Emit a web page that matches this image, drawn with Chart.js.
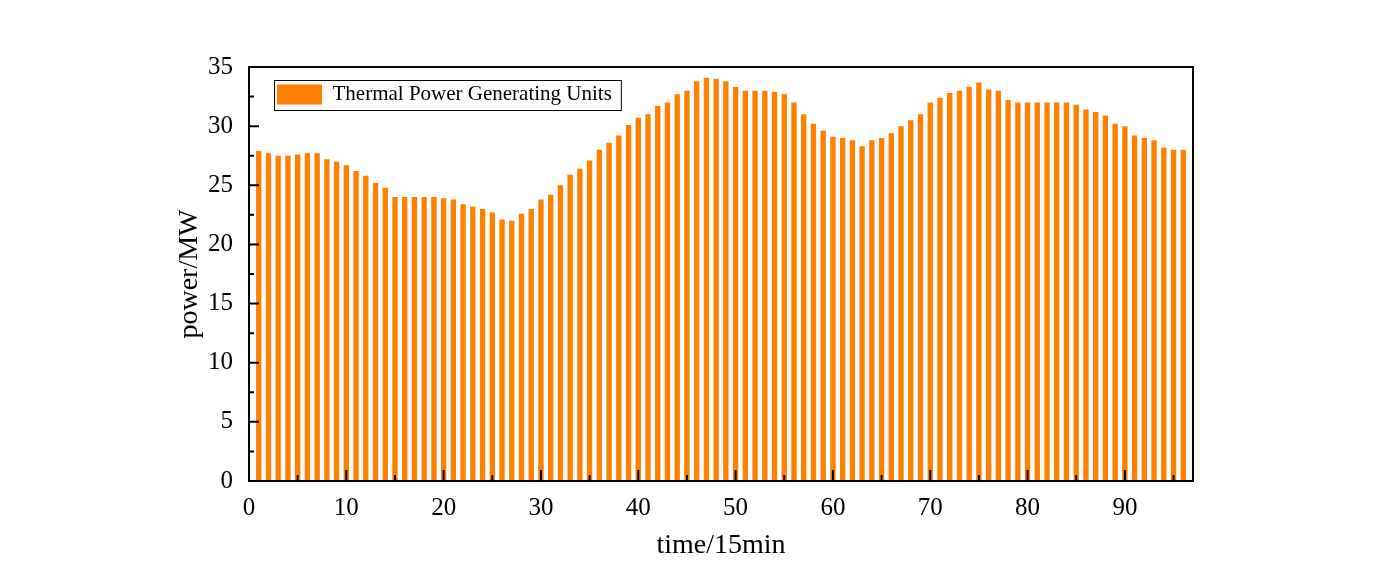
<!DOCTYPE html>
<html>
<head>
<meta charset="utf-8">
<script src="https://cdn.jsdelivr.net/npm/chart.js@4.4.1/dist/chart.umd.min.js"></script>
<style>
  html, body { margin: 0; padding: 0; background: #fff; }
  #wrap { width: 1386px; height: 577px; }
</style>
</head>
<body>
<div id="wrap"><canvas id="graficoTermica"></canvas></div>
<script>
// dados (periodos de 15 min)
const periodos = [1, 2, 3, 4, 5, 6, 7, 8, 9, 10, 11, 12, 13, 14, 15, 16, 17, 18, 19, 20,
    21, 22, 23, 24, 25, 26, 27, 28, 29, 30, 31, 32, 33, 34, 35, 36, 37, 38, 39, 40,
    41, 42, 43, 44, 45, 46, 47, 48, 49, 50, 51, 52, 53, 54, 55, 56, 57, 58, 59, 60,
    61, 62, 63, 64, 65, 66, 67, 68, 69, 70, 71, 72, 73, 74, 75, 76, 77, 78, 79, 80,
    81, 82, 83, 84, 85, 86, 87, 88, 89, 90, 91, 92, 93, 94, 95, 96];
const potencia = [27.9, 27.7, 27.5, 27.5, 27.6, 27.7, 27.7, 27.2, 27.0, 26.7,
    26.2, 25.8, 25.2, 24.8, 24.0, 24.0, 24.0, 24.0, 24.0, 23.9,
    23.8, 23.4, 23.2, 23.0, 22.7, 22.1, 22.0, 22.6, 23.0, 23.8,
    24.2, 25.0, 25.9, 26.4, 27.1, 28.0, 28.6, 29.2, 30.1, 30.7,
    31.0, 31.7, 32.0, 32.7, 33.0, 33.8, 34.1, 34.0, 33.8, 33.3,
    33.0, 33.0, 33.0, 32.9, 32.7, 32.0, 31.0, 30.2, 29.6, 29.1,
    29.0, 28.8, 28.3, 28.8, 29.0, 29.4, 30.0, 30.5, 31.0, 32.0,
    32.4, 32.8, 33.0, 33.3, 33.7, 33.1, 33.0, 32.2, 32.0, 32.0,
    32.0, 32.0, 32.0, 32.0, 31.8, 31.4, 31.2, 30.9, 30.2, 30.0,
    29.2, 29.0, 28.8, 28.2, 28.0, 28.0];
const ticksX = [0, 10, 20, 30, 40, 50, 60, 70, 80, 90];
const ticksXMenor = [5, 15, 25, 35, 45, 55, 65, 75, 85, 95];
const ticksY = [0, 5, 10, 15, 20, 25, 30, 35];
const ticksYMenor = [2.5, 7.5, 12.5, 17.5, 22.5, 27.5, 32.5];

const fonte = "'Liberation Serif', 'Times New Roman', serif";
const laranja = 'rgb(255, 128, 0)';

// moldura, ticks para dentro e caixa da legenda
const molduraPlugin = {
    id: 'moldura',
    afterLayout(chart) {
        const lg = chart.legend;
        const area = chart.chartArea;
        const w = lg.width, h = lg.height;
        lg.left = area.left + 11;
        lg.top = area.top;
        lg.right = lg.left + w;
        lg.bottom = lg.top + h;
    },
    afterDraw(chart) {
        const ctx = chart.ctx;
        const area = chart.chartArea;
        const sx = chart.scales.x;
        const sy = chart.scales.y;
        ctx.save();
        ctx.strokeStyle = '#000';
        ctx.lineWidth = 2;
        ctx.beginPath();
        ticksX.forEach(v => {
            const px = sx.getPixelForValue(v);
            ctx.moveTo(px, area.bottom);
            ctx.lineTo(px, area.bottom - 11);
        });
        ticksXMenor.forEach(v => {
            const px = sx.getPixelForValue(v);
            ctx.moveTo(px, area.bottom);
            ctx.lineTo(px, area.bottom - 6);
        });
        ticksY.forEach(v => {
            const py = sy.getPixelForValue(v);
            ctx.moveTo(area.left, py);
            ctx.lineTo(area.left + 10, py);
        });
        ticksYMenor.forEach(v => {
            const py = sy.getPixelForValue(v);
            ctx.moveTo(area.left, py);
            ctx.lineTo(area.left + 5, py);
        });
        ctx.stroke();
        ctx.strokeRect(area.left, area.top, area.right - area.left, area.bottom - area.top);

        // borda da legenda
        const lg = chart.legend;
        const pad = lg.options.labels.padding;
        ctx.font = '21px ' + fonte;
        const larguraTexto = ctx.measureText(chart.data.datasets[0].label).width;
        ctx.lineWidth = 1;
        const bx = lg.left + pad - 2.5;
        const by = lg.top + pad - 3.5;
        ctx.strokeRect(bx, by, 45 + 10.5 + larguraTexto + 12, 30);
        ctx.restore();
    }
};

document.addEventListener('DOMContentLoaded', function () {
    const ctx = document.getElementById('graficoTermica').getContext('2d');
    new Chart(ctx, {
        type: 'bar',
        data: {
            datasets: [{
                label: 'Thermal Power Generating Units',
                data: periodos.map((p, i) => ({ x: p, y: potencia[i] })),
                backgroundColor: laranja,
                borderWidth: 0,
                barPercentage: 0.55,
                categoryPercentage: 1
            }]
        },
        options: {
            responsive: true,
            maintainAspectRatio: false,
            animation: false,
            layout: {
                padding: { left: 173, top: 67, right: 193, bottom: 15 }
            },
            plugins: {
                legend: {
                    position: 'chartArea',
                    align: 'start',
                    labels: {
                        boxWidth: 45,
                        boxHeight: 20,
                        padding: 17,
                        color: '#000',
                        font: { family: fonte, size: 21 }
                    }
                },
                tooltip: { enabled: false }
            },
            scales: {
                x: {
                    type: 'linear',
                    min: 0,
                    max: 97,
                    offset: false,
                    grid: { display: false, drawTicks: false, offset: false },
                    border: { display: false },
                    afterBuildTicks: (scale) => {
                        scale.ticks = ticksX.map(v => ({ value: v }));
                    },
                    afterFit: (scale) => { scale.height = 81; },
                    ticks: {
                        color: '#000',
                        padding: 12,
                        maxRotation: 0,
                        font: { family: fonte, size: 25 }
                    },
                    title: {
                        display: true,
                        text: 'time/15min',
                        color: '#000',
                        padding: 0,
                        font: { family: fonte, size: 28 }
                    }
                },
                y: {
                    min: 0,
                    max: 35,
                    grid: { display: false, drawTicks: false },
                    border: { display: false },
                    afterBuildTicks: (scale) => {
                        scale.ticks = ticksY.map(v => ({ value: v }));
                    },
                    afterFit: (scale) => { scale.width = 76; },
                    ticks: {
                        color: '#000',
                        padding: 16,
                        font: { family: fonte, size: 25 }
                    },
                    title: {
                        display: true,
                        text: 'power/MW',
                        color: '#000',
                        padding: 0,
                        font: { family: fonte, size: 28 }
                    }
                }
            }
        },
        plugins: [molduraPlugin]
    });
});
</script>
</body>
</html>
